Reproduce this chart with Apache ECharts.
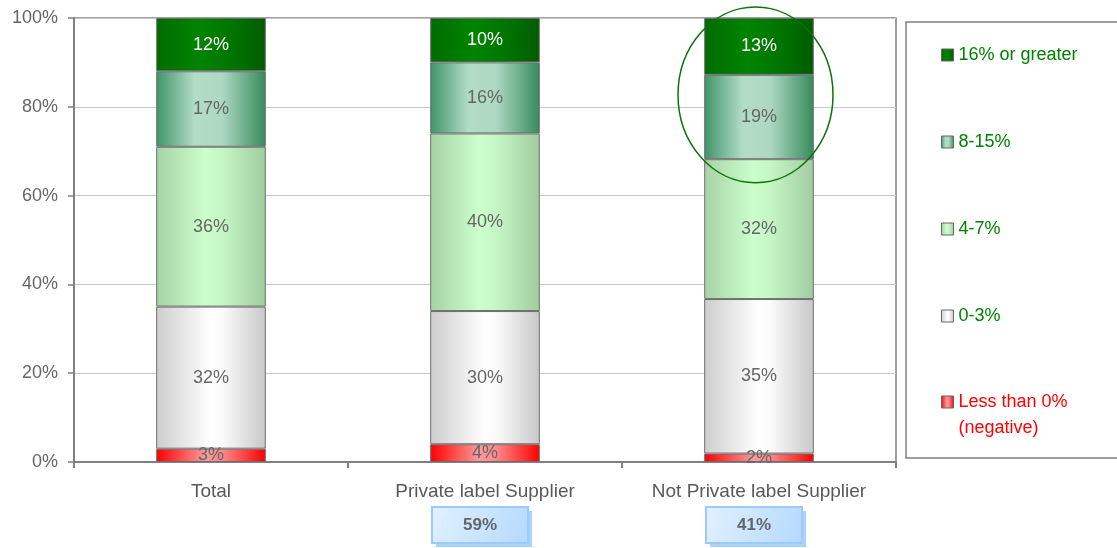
<!DOCTYPE html>
<html>
<head>
<meta charset="utf-8">
<script src="https://cdn.jsdelivr.net/npm/echarts@6/dist/echarts.min.js"></script>
<style>
html,body{margin:0;padding:0;background:#fff;}
#chart{width:1117px;height:548px;}
</style>
</head>
<body>
<div id="chart"></div>
<script>
var categories = ['Total', 'Private label Supplier', 'Not Private label Supplier'];
var segmentNames = ['Less than 0%', '0-3%', '4-7%', '8-15%', '16% or greater'];
var negativeVals = [3, 4, 1.9];
var lowVals = [32, 30, 34.8];
var midVals = [36, 40, 31.5];
var highVals = [17, 16, 19];
var topVals = [12, 10, 12.8];
var shareLabels = ['', '59%', '41%'];
var yTicks = [0, 20, 40, 60, 80, 100];

var FONT = "'Liberation Sans', Arial, sans-serif";

function hGrad(stops) {
  return new echarts.graphic.LinearGradient(0, 0, 1, 0, stops.map(function (s) { return { offset: s[0], color: s[1] }; }));
}
var fills = [
  hGrad([[0, '#ff0000'], [0.45, '#ff9a9a'], [0.6, '#ff8a8a'], [1, '#ff0000']]),
  hGrad([[0, '#cdcdcd'], [0.5, '#ffffff'], [0.6, '#fbfbfb'], [1, '#c8c8c8']]),
  hGrad([[0, '#a6d2a6'], [0.45, '#ccffcc'], [0.6, '#c6f6c6'], [1, '#a0cca0']]),
  hGrad([[0, '#3f9468'], [0.35, '#b2dcc6'], [0.6, '#aed8c2'], [1, '#368a5c']]),
  hGrad([[0, '#006c00'], [0.4, '#008400'], [0.7, '#007400'], [1, '#005c00']])
];
var labelColors = ['#666666', '#666666', '#666666', '#666666', '#ffffff'];
var valueSets = [negativeVals, lowVals, midVals, highVals, topVals];

var series = segmentNames.map(function (name, i) {
  return {
    name: name,
    type: 'bar',
    stack: 'total',
    barWidth: '40%',
    data: valueSets[i],
    itemStyle: { color: fills[i], borderColor: '#6e6e6e', borderWidth: 1 },
    emphasis: { disabled: true },
    label: {
      show: true,
      position: 'inside',
      color: labelColors[i],
      fontFamily: FONT,
      fontSize: 18,
      formatter: function (p) { return Math.round(p.value) + '%'; }
    }
  };
});

var chart = echarts.init(document.getElementById('chart'), null, { renderer: 'canvas' });

var option = {
  animation: false,
  backgroundColor: '#ffffff',
  textStyle: { fontFamily: FONT },
  grid: {
    left: 74, right: 221, top: 18, bottom: 86,
    show: true, borderColor: '#808080', borderWidth: 1.5, backgroundColor: 'transparent'
  },
  legend: [
    {
      orient: 'vertical',
      left: 941, top: 45,
      padding: 0,
      itemWidth: 12, itemHeight: 12, itemGap: 67,
      icon: 'rect',
      data: [segmentNames[4], segmentNames[3], segmentNames[2], segmentNames[1]],
      itemStyle: { borderColor: '#666666', borderWidth: 1 },
      textStyle: { color: '#008000', fontSize: 18, lineHeight: 20, fontFamily: FONT }
    },
    {
      orient: 'vertical',
      left: 941, top: 363,
      padding: 0,
      itemWidth: 12, itemHeight: 12,
      icon: 'rect',
      data: [segmentNames[0]],
      formatter: function (n) { return ' \n' + n + '\n(negative)'; },
      itemStyle: { borderColor: '#666666', borderWidth: 1 },
      textStyle: { color: '#ff0000', fontSize: 18, lineHeight: 26, fontFamily: FONT }
    }
  ],
  xAxis: {
    type: 'category',
    data: categories,
    axisLine: { show: true, lineStyle: { color: '#808080', width: 2 } },
    axisTick: { show: true, interval: 0, alignWithLabel: false, length: 6, lineStyle: { color: '#808080', width: 2 } },
    axisLabel: { interval: 0, color: '#595959', fontSize: 19, margin: 20, fontFamily: FONT },
    splitLine: { show: false }
  },
  yAxis: {
    type: 'value',
    min: yTicks[0], max: yTicks[yTicks.length - 1], interval: 20,
    axisLine: { show: true, lineStyle: { color: '#808080', width: 2 } },
    axisTick: { show: true, inside: false, length: 6, lineStyle: { color: '#808080', width: 1.5 } },
    axisLabel: { color: '#666666', fontSize: 18, margin: 16, fontFamily: FONT, formatter: '{value}%' },
    splitLine: { show: true, lineStyle: { color: '#c8c8c8', width: 1 } }
  },
  series: series
};
chart.setOption(option);

function buildGraphics() {
  var g = [];
  g.push({
    type: 'rect', z: 0, silent: true,
    shape: { x: 906, y: 22, width: 220, height: 436 },
    style: { fill: 'transparent', stroke: '#808080', lineWidth: 1.5 }
  });
  var c = chart.convertToPixel({ xAxisIndex: 0, yAxisIndex: 0 }, [2, 82.7]);
  var h = chart.convertToPixel({ xAxisIndex: 0, yAxisIndex: 0 }, [2, 0])[1] - chart.convertToPixel({ xAxisIndex: 0, yAxisIndex: 0 }, [2, 100])[1];
  g.push({
    type: 'ellipse', z: 10, silent: true,
    shape: { cx: c[0] - 3.5, cy: c[1], rx: 77.5, ry: h * 0.198 },
    style: { fill: 'transparent', stroke: '#0c720c', lineWidth: 1.5 }
  });
  shareLabels.forEach(function (txt, i) {
    if (!txt) return;
    var p = chart.convertToPixel({ xAxisIndex: 0, yAxisIndex: 0 }, [i, 0]);
    var cx = p[0] - 5;
    var w = 96, hh = 36, top = 507;
    g.push({
      type: 'rect', z: 5, silent: true,
      shape: { x: cx - w / 2 + 4, y: top + 4, width: w, height: hh },
      style: { fill: '#a9d3fb' }
    });
    g.push({
      type: 'rect', z: 6, silent: true,
      shape: { x: cx - w / 2, y: top, width: w, height: hh },
      style: {
        fill: new echarts.graphic.LinearGradient(0, 0, 1, 1, [
          { offset: 0, color: '#e2f1ff' }, { offset: 1, color: '#b3d9ff' }
        ]),
        stroke: '#9ccbfa', lineWidth: 2
      }
    });
    g.push({
      type: 'text', z: 7, silent: true,
      x: cx, y: top + hh / 2,
      style: {
        text: txt, fill: '#666666', fontFamily: FONT, fontSize: 17, fontWeight: 'bold',
        align: 'center', verticalAlign: 'middle'
      }
    });
  });
  chart.setOption({ graphic: g });
}
buildGraphics();
</script>
</body>
</html>
